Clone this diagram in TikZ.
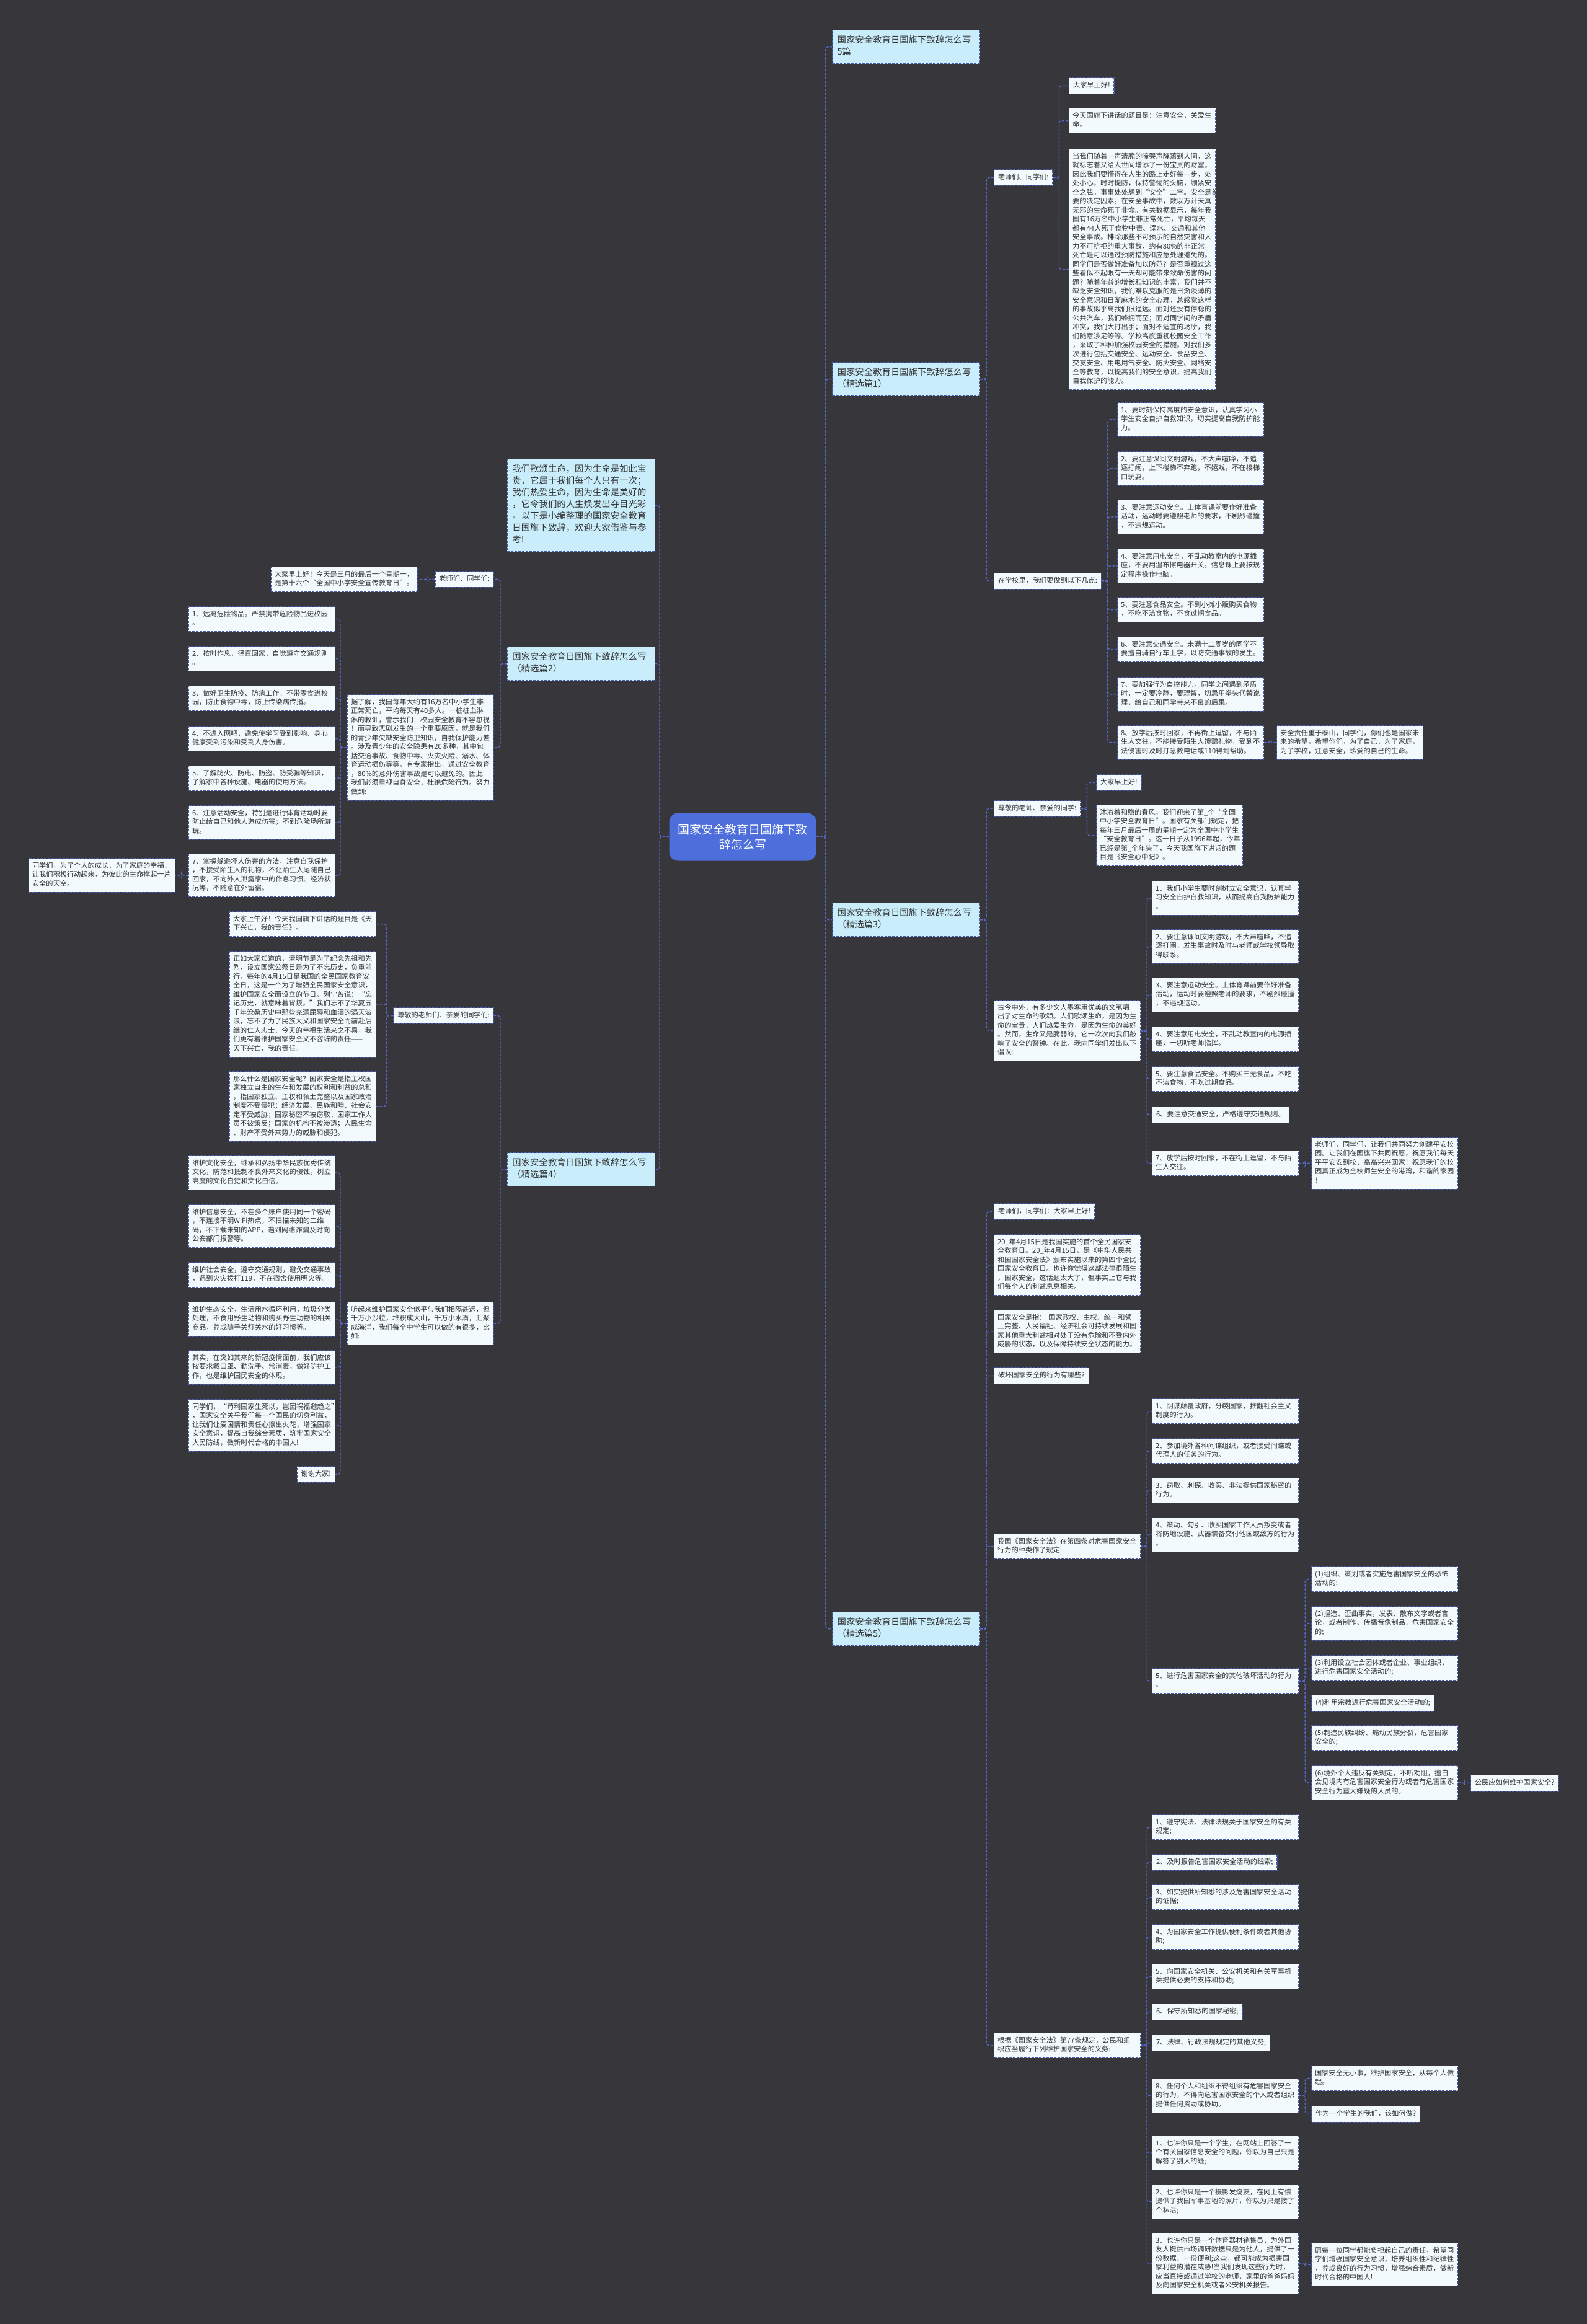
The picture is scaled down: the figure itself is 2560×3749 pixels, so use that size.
\documentclass[tikz,border=0pt]{standalone}
\usepackage{fontspec}
\setmainfont{Noto Sans CJK SC}
\definecolor{bgc}{HTML}{37363A}
\definecolor{leaff}{HTML}{F2FAFD}
\definecolor{brf}{HTML}{C9EDFB}
\definecolor{bordc}{HTML}{4A5AA6}
\definecolor{connc}{HTML}{5668C8}
\definecolor{txtc}{HTML}{333333}
\definecolor{cenf}{HTML}{4E6FDB}
\newcommand{\leaffont}{\fontsize{5.6pt}{7.25pt}\selectfont}
\newcommand{\branchfont}{\fontsize{7.2pt}{9.5pt}\selectfont}
\newcommand{\centerfont}{\fontsize{9.5pt}{12pt}\selectfont}
\begin{document}
\begin{tikzpicture}[x=0.5pt,y=-0.5pt,
  box/.style={draw=bordc, line width=0.6pt, dash pattern=on 2pt off 1pt, text=txtc, align=left},
  leaf/.style={box, fill=leaff, font=\leaffont, text width=112.4pt, inner xsep=2.8pt, inner ysep=2.75pt, anchor=north west, execute at begin node=\strut, execute at end node=\strut},
  leafl/.style={leaf, anchor=north east},
  sleaf/.style={box, fill=leaff, font=\leaffont, inner xsep=3.2pt, inner ysep=2.75pt, anchor=north west, execute at begin node=\strut},
  sleafl/.style={sleaf, anchor=north east},
  branch/.style={box, fill=brf, font=\branchfont, text width=111pt, inner xsep=4pt, inner ysep=4pt, anchor=north west, execute at begin node=\strut, execute at end node=\strut},
  conn/.style={draw=connc, line width=0.7pt, dash pattern=on 2pt off 1.2pt, rounded corners=2pt}
]
\fill[bgc] (0,0) rectangle (2560,3749);
\useasboundingbox (0,0) rectangle (2560,3749);

% center
\node[fill=cenf, rounded corners=7pt, text=white, font=\centerfont, align=center, minimum width=118.5pt, minimum height=38.5pt, inner sep=3pt] (C) at (1198,1350) {国家安全教育日国旗下致\\辞怎么写};

% right branches
\node[branch] (R0) at (1342,48) {国家安全教育日国旗下致辞怎么写\\5篇};
\node[branch] (R1) at (1342,584) {国家安全教育日国旗下致辞怎么写\\（精选篇1）};
\node[branch] (R3) at (1342,1456) {国家安全教育日国旗下致辞怎么写\\（精选篇3）};
\node[branch] (R5) at (1342,2600) {国家安全教育日国旗下致辞怎么写\\（精选篇5）};

% left branches
\node[branch, anchor=north east] (L0) at (1057,740) {我们歌颂生命，因为生命是如此宝\\贵，它属于我们每个人只有一次；\\我们热爱生命，因为生命是美好的\\，它令我们的人生焕发出夺目光彩\\。以下是小编整理的国家安全教育\\日国旗下致辞，欢迎大家借鉴与参\\考!};
\node[branch, anchor=north east] (L2) at (1057,1043) {国家安全教育日国旗下致辞怎么写\\（精选篇2）};
\node[branch, anchor=north east] (L4) at (1057,1859) {国家安全教育日国旗下致辞怎么写\\（精选篇4）};

% ---------- 精选篇1 ----------
\node[sleaf] (T1a) at (1603,273) {老师们、同学们:};
\node[sleaf] (a1) at (1724,125) {大家早上好!};
\node[leaf] (a2) at (1724,174) {今天国旗下讲话的题目是：注意安全，关爱生\\命。};
\node[leaf] (a3) at (1724,240) {当我们随着一声清脆的啼哭声降落到人间，这\\就标志着又给人世间增添了一份宝贵的财富。\\因此我们要懂得在人生的路上走好每一步，处\\处小心，时时提防，保持警惕的头脑，绷紧安\\全之弦。事事处处想到“安全”二字。安全是首\\要的决定因素。在安全事故中，数以万计天真\\无邪的生命死于非命。有关数据显示，每年我\\国有16万名中小学生非正常死亡，平均每天\\都有44人死于食物中毒、溺水、交通和其他\\安全事故。排除那些不可预示的自然灾害和人\\力不可抗拒的重大事故，约有80\%的非正常\\死亡是可以通过预防措施和应急处理避免的。\\同学们是否做好准备加以防范？是否重视过这\\些看似不起眼有一天却可能带来致命伤害的问\\题？随着年龄的增长和知识的丰富，我们并不\\缺乏安全知识，我们难以克服的是日渐淡薄的\\安全意识和日渐麻木的安全心理，总感觉这样\\的事故似乎离我们很遥远。面对还没有停稳的\\公共汽车，我们蜂拥而至；面对同学间的矛盾\\冲突，我们大打出手；面对不适宜的场所，我\\们随意涉足等等。学校高度重视校园安全工作\\，采取了种种加强校园安全的措施。对我们多\\次进行包括交通安全、运动安全、食品安全、\\交友安全、用电用气安全、防火安全、网络安\\全等教育，以提高我们的安全意识，提高我们\\自我保护的能力。};
\node[sleaf] (T1b) at (1603,924) {在学校里，我们要做到以下几点:};
\node[leaf] (b1) at (1802,649) {1、要时刻保持高度的安全意识，认真学习小\\学生安全自护自救知识，切实提高自我防护能\\力。};
\node[leaf] (b2) at (1802,728) {2、要注意课间文明游戏，不大声喧哗，不追\\逐打闹，上下楼梯不奔跑，不嬉戏，不在楼梯\\口玩耍。};
\node[leaf] (b3) at (1802,806) {3、要注意运动安全。上体育课前要作好准备\\活动，运动时要遵照老师的要求，不剧烈碰撞\\，不违规运动。};
\node[leaf] (b4) at (1802,885) {4、要注意用电安全，不乱动教室内的电源插\\座，不要用湿布擦电器开关。信息课上要按规\\定程序操作电脑。};
\node[leaf] (b5) at (1802,963) {5、要注意食品安全。不到小摊小贩购买食物\\，不吃不洁食物，不食过期食品。};
\node[leaf] (b6) at (1802,1027) {6、要注意交通安全。未满十二周岁的同学不\\要擅自骑自行车上学，以防交通事故的发生。};
\node[leaf] (b7) at (1802,1092) {7、要加强行为自控能力。同学之间遇到矛盾\\时，一定要冷静，要理智，切忌用拳头代替说\\理，给自己和同学带来不良的后果。};
\node[leaf] (b8) at (1802,1170) {8、放学后按时回家，不再街上逗留，不与陌\\生人交往，不能接受陌生人馈赠礼物，受到不\\法侵害时及时打急救电话或110得到帮助。};
\node[leaf] (b8x) at (2059,1170) {安全责任重于泰山，同学们，你们也是国家未\\来的希望，希望你们，为了自己，为了家庭，\\为了学校，注意安全，珍爱的自己的生命。};

% ---------- 精选篇3 ----------
\node[sleaf] (T3a) at (1603,1291) {尊敬的老师、亲爱的同学:};
\node[sleaf] (c1) at (1768,1249) {大家早上好!};
\node[leaf] (c2) at (1768,1298) {沐浴着和煦的春风，我们迎来了第\_个“全国\\中小学安全教育日”。国家有关部门规定，把\\每年三月最后一周的星期一定为全国中小学生\\“安全教育日”。这一日子从1996年起，今年\\已经是第\_个年头了，今天我国旗下讲话的题\\目是《安全心中记》。};
\node[leaf] (T3b) at (1603,1613) {古今中外，有多少文人墨客用优美的文笔唱\\出了对生命的歌颂。人们歌颂生命，是因为生\\命的宝贵，人们热爱生命，是因为生命的美好\\。然而，生命又是脆弱的，它一次次向我们敲\\响了安全的警钟。在此，我向同学们发出以下\\倡议:};
\node[leaf] (d1) at (1858,1421) {1、我们小学生要时刻树立安全意识，认真学\\习安全自护自救知识，从而提高自我防护能力\\。};
\node[leaf] (d2) at (1858,1499) {2、要注意课间文明游戏，不大声喧哗，不追\\逐打闹，发生事故时及时与老师或学校领导取\\得联系。};
\node[leaf] (d3) at (1858,1577) {3、要注意运动安全。上体育课前要作好准备\\活动，运动时要遵照老师的要求，不剧烈碰撞\\，不违规运动。};
\node[leaf] (d4) at (1858,1656) {4、要注意用电安全，不乱动教室内的电源插\\座，一切听老师指挥。};
\node[leaf] (d5) at (1858,1720) {5、要注意食品安全。不购买三无食品，不吃\\不洁食物，不吃过期食品。};
\node[sleaf] (d6) at (1858,1785) {6、要注意交通安全，严格遵守交通规则。};
\node[leaf] (d7) at (1858,1856) {7、放学后按时回家，不在街上逗留，不与陌\\生人交往。};
\node[leaf] (d7x) at (2115,1834) {老师们，同学们，让我们共同努力创建平安校\\园。让我们在国旗下共同祝愿，祝愿我们每天\\平平安安到校，高高兴兴回家！祝愿我们的校\\园真正成为全校师生安全的港湾，和谐的家园\\！};

% ---------- 精选篇5 ----------
\node[sleaf] (e1) at (1603,1941) {老师们，同学们：大家早上好!};
\node[leaf] (e2) at (1603,1991) {20\_年4月15日是我国实施的首个全民国家安\\全教育日。20\_年4月15日，是《中华人民共\\和国国家安全法》颁布实施以来的第四个全民\\国家安全教育日。也许你觉得这部法律很陌生\\，国家安全，这话题太大了，但事实上它与我\\们每个人的利益息息相关。};
\node[leaf] (e3) at (1603,2113) {国家安全是指：~国家政权、主权、统一和领\\土完整、人民福祉、经济社会可持续发展和国\\家其他重大利益相对处于没有危险和不受内外\\威胁的状态，以及保障持续安全状态的能力。};
\node[sleaf] (e4) at (1603,2206) {破坏国家安全的行为有哪些?};
\node[leaf] (e5) at (1603,2474) {我国《国家安全法》在第四条对危害国家安全\\行为的种类作了规定:};
\node[leaf] (e6) at (1603,3279) {根据《国家安全法》第77条规定，公民和组\\织应当履行下列维护国家安全的义务:};
\node[leaf] (f1) at (1858,2256) {1、阴谋颠覆政府，分裂国家，推翻社会主义\\制度的行为。};
\node[leaf] (f2) at (1858,2320) {2、参加境外各种间谍组织，或者接受间谍或\\代理人的任务的行为。};
\node[leaf] (f3) at (1858,2384) {3、窃取、刺探、收买、非法提供国家秘密的\\行为。};
\node[leaf] (f4) at (1858,2448) {4、策动、勾引、收买国家工作人员叛变或者\\将防地设施、武器装备交付他国或敌方的行为\\。};
\node[leaf] (f5) at (1858,2691) {5、进行危害国家安全的其他破坏活动的行为\\。};
\node[leaf] (g1) at (2115,2527) {(1)组织、策划或者实施危害国家安全的恐怖\\活动的;};
\node[leaf] (g2) at (2115,2591) {(2)捏造、歪曲事实，发表、散布文字或者言\\论，或者制作、传播音像制品，危害国家安全\\的;};
\node[leaf] (g3) at (2115,2670) {(3)利用设立社会团体或者企业、事业组织，\\进行危害国家安全活动的;};
\node[sleaf] (g4) at (2115,2734) {(4)利用宗教进行危害国家安全活动的;};
\node[leaf] (g5) at (2115,2783) {(5)制造民族纠纷、煽动民族分裂，危害国家\\安全的;};
\node[leaf] (g6) at (2115,2848) {(6)境外个人违反有关规定，不听劝阻，擅自\\会见境内有危害国家安全行为或者有危害国家\\安全行为重大嫌疑的人员的。};
\node[sleaf] (g6x) at (2372,2863) {公民应如何维护国家安全?};
\node[leaf] (h1) at (1858,2927) {1、遵守宪法、法律法规关于国家安全的有关\\规定;};
\node[sleaf] (h2) at (1858,2991) {2、及时报告危害国家安全活动的线索;};
\node[leaf] (h3) at (1858,3040) {3、如实提供所知悉的涉及危害国家安全活动\\的证据;};
\node[leaf] (h4) at (1858,3104) {4、为国家安全工作提供便利条件或者其他协\\助;};
\node[leaf] (h5) at (1858,3168) {5、向国家安全机关、公安机关和有关军事机\\关提供必要的支持和协助;};
\node[sleaf] (h6) at (1858,3232) {6、保守所知悉的国家秘密;};
\node[sleaf] (h7) at (1858,3282) {7、法律、行政法规规定的其他义务;};
\node[leaf] (h8) at (1858,3353) {8、任何个人和组织不得组织有危害国家安全\\的行为，不得向危害国家安全的个人或者组织\\提供任何资助或协助。};
\node[leaf] (h8a) at (2115,3332) {国家安全无小事，维护国家安全，从每个人做\\起。};
\node[sleaf] (h8b) at (2115,3397) {作为一个学生的我们，该如何做?};
\node[leaf] (i1) at (1858,3445) {1、也许你只是一个学生，在网站上回答了一\\个有关国家信息安全的问题，你以为自己只是\\解答了别人的疑;};
\node[leaf] (i2) at (1858,3524) {2、也许你只是一个摄影发烧友，在网上有偿\\提供了我国军事基地的照片，你以为只是接了\\个私活;};
\node[leaf] (i3) at (1858,3602) {3、也许你只是一个体育器材销售员，为外国\\友人提供市场调研数据只是为他人，提供了一\\份数据、一份便利;这些，都可能成为损害国\\家利益的潜在威胁!当我们发现这些行为时，\\应当直接或通过学校的老师，家里的爸爸妈妈\\及向国家安全机关或者公安机关报告。};
\node[leaf] (i3x) at (2115,3618) {愿每一位同学都能负担起自己的责任，希望同\\学们增强国家安全意识，培养组织性和纪律性\\，养成良好的行为习惯，增强综合素质，做新\\时代合格的中国人!};

% ---------- 精选篇2 ----------
\node[sleafl] (P1) at (797,921) {老师们、同学们:};
\node[leafl] (p1x) at (674,914) {大家早上好！今天是三月的最后一个星期一，\\是第十六个“全国中小学安全宣传教育日”。};
\node[leafl] (P2) at (797,1120) {据了解，我国每年大约有16万名中小学生非\\正常死亡，平均每天有40多人。一桩桩血淋\\淋的教训，警示我们：校园安全教育不容忽视\\！而导致悲剧发生的一个重要原因，就是我们\\的青少年欠缺安全防卫知识，自我保护能力差\\。涉及青少年的安全隐患有20多种，其中包\\括交通事故、食物中毒、火灾火险、溺水、体\\育运动损伤等等。有专家指出，通过安全教育\\，80\%的意外伤害事故是可以避免的。因此\\我们必须重视自身安全，杜绝危险行为。努力\\做到:};
\node[leafl] (q1) at (541,978) {1、远离危险物品。严禁携带危险物品进校园\\。};
\node[leafl] (q2) at (541,1042) {2、按时作息，径直回家，自觉遵守交通规则\\。};
\node[leafl] (q3) at (541,1106) {3、做好卫生防疫、防病工作。不带零食进校\\园，防止食物中毒，防止传染病传播。};
\node[leafl] (q4) at (541,1171) {4、不进入网吧，避免使学习受到影响、身心\\健康受到污染和受到人身伤害。};
\node[leafl] (q5) at (541,1235) {5、了解防火、防电、防盗、防受骗等知识，\\了解家中各种设施、电器的使用方法。};
\node[leafl] (q6) at (541,1299) {6、注意活动安全，特别是进行体育活动时要\\防止给自己和他人造成伤害；不到危险场所游\\玩。};
\node[leafl] (q7) at (541,1377) {7、掌握躲避坏人伤害的方法，注意自我保护\\，不接受陌生人的礼物，不让陌生人尾随自己\\回家，不向外人泄露家中的作息习惯、经济状\\况等，不随意在外留宿。};
\node[leafl] (q7x) at (283,1384) {同学们，为了个人的成长，为了家庭的幸福，\\让我们积极行动起来，为彼此的生命撑起一片\\安全的天空。};

% ---------- 精选篇4 ----------
\node[sleafl] (Q1) at (797,1625) {尊敬的老师们、亲爱的同学们:};
\node[leafl] (r1) at (607,1470) {大家上午好！今天我国旗下讲话的题目是《天\\下兴亡，我的责任》。};
\node[leafl] (r2) at (607,1534) {正如大家知道的，清明节是为了纪念先祖和先\\烈，设立国家公祭日是为了不忘历史，负重前\\行，每年的4月15日是我国的全民国家教育安\\全日，这是一个为了增强全民国家安全意识，\\维护国家安全而设立的节日。列宁曾说：“忘\\记历史，就意味着背叛。”我们忘不了华夏五\\千年沧桑历史中那些充满屈辱和血泪的滔天波\\浪，忘不了为了民族大义和国家安全而前赴后\\继的仁人志士，今天的幸福生活来之不易，我\\们更有着维护国家安全义不容辞的责任——\\天下兴亡，我的责任。};
\node[leafl] (r3) at (607,1728) {那么什么是国家安全呢？国家安全是指主权国\\家独立自主的生存和发展的权利和利益的总和\\，指国家独立、主权和领土完整以及国家政治\\制度不受侵犯；经济发展、民族和睦、社会安\\定不受威胁；国家秘密不被窃取；国家工作人\\员不被策反；国家的机构不被渗透；人民生命\\、财产不受外来势力的威胁和侵犯。};
\node[leafl] (Q2) at (797,2100) {听起来维护国家安全似乎与我们相隔甚远，但\\千万小沙粒，堆积成大山，千万小水滴，汇聚\\成海洋，我们每个中学生可以做的有很多，比\\如:};
\node[leafl] (s1) at (541,1864) {维护文化安全，继承和弘扬中华民族优秀传统\\文化，防范和抵制不良外来文化的侵蚀，树立\\高度的文化自觉和文化自信。};
\node[leafl] (s2) at (541,1943) {维护信息安全，不在多个账户使用同一个密码\\，不连接不明WiFi热点，不扫描未知的二维\\码，不下载未知的APP，遇到网络诈骗及时向\\公安部门报警等。};
\node[leafl] (s3) at (541,2036) {维护社会安全，遵守交通规则，避免交通事故\\，遇到火灾拨打119，不在宿舍使用明火等。};
\node[leafl] (s4) at (541,2100) {维护生态安全，生活用水循环利用，垃圾分类\\处理，不食用野生动物和购买野生动物的相关\\商品，养成随手关灯关水的好习惯等。};
\node[leafl] (s5) at (541,2178) {其实，在突如其来的新冠疫情面前，我们应该\\按要求戴口罩、勤洗手、常消毒，做好防护工\\作，也是维护国民安全的体现。};
\node[leafl] (s6) at (541,2257) {同学们，“苟利国家生死以，岂因祸福避趋之”\\，国家安全关乎我们每一个国民的切身利益，\\让我们让爱国情和责任心擦出火花，增强国家\\安全意识，提高自我综合素质，筑牢国家安全\\人民防线，做新时代合格的中国人!};
\node[sleafl] (s7) at (541,2365) {谢谢大家!};

% ---------- connectors ----------
\foreach \n in {R0,R1,R3,R5} \draw[conn] (C.east) -- ++(15,0) |- (\n.west);
\foreach \n in {L0,L2,L4} \draw[conn] (C.west) -- ++(-15,0) |- (\n.east);

\foreach \n in {T1a,T1b} \draw[conn] (R1.east) -- ++(10,0) |- (\n.west);
\foreach \n in {a1,a2,a3} \draw[conn] (T1a.east) -- ++(10,0) |- (\n.west);
\foreach \n in {b1,b2,b3,b4,b5,b6,b7,b8} \draw[conn] (T1b.east) -- ++(10,0) |- (\n.west);
\draw[conn] (b8.east) -- ++(10,0) |- (b8x.west);

\foreach \n in {T3a,T3b} \draw[conn] (R3.east) -- ++(10,0) |- (\n.west);
\foreach \n in {c1,c2} \draw[conn] (T3a.east) -- ++(10,0) |- (\n.west);
\foreach \n in {d1,d2,d3,d4,d5,d6,d7} \draw[conn] (T3b.east) -- ++(10,0) |- (\n.west);
\draw[conn] (d7.east) -- ++(10,0) |- (d7x.west);

\foreach \n in {e1,e2,e3,e4,e5,e6} \draw[conn] (R5.east) -- ++(10,0) |- (\n.west);
\foreach \n in {f1,f2,f3,f4,f5} \draw[conn] (e5.east) -- ++(10,0) |- (\n.west);
\foreach \n in {g1,g2,g3,g4,g5,g6} \draw[conn] (f5.east) -- ++(10,0) |- (\n.west);
\draw[conn] (g6.east) -- ++(10,0) |- (g6x.west);
\foreach \n in {h1,h2,h3,h4,h5,h6,h7,h8,i1,i2,i3} \draw[conn] (e6.east) -- ++(10,0) |- (\n.west);
\foreach \n in {h8a,h8b} \draw[conn] (h8.east) -- ++(10,0) |- (\n.west);
\draw[conn] (i3.east) -- ++(10,0) |- (i3x.west);

\foreach \n in {P1,P2} \draw[conn] (L2.west) -- ++(-11,0) |- (\n.east);
\draw[conn] (P1.west) -- ++(-11,0) |- (p1x.east);
\foreach \n in {q1,q2,q3,q4,q5,q6,q7} \draw[conn] (P2.west) -- ++(-11,0) |- (\n.east);
\draw[conn] (q7.west) -- ++(-11,0) |- (q7x.east);

\foreach \n in {Q1,Q2} \draw[conn] (L4.west) -- ++(-11,0) |- (\n.east);
\foreach \n in {r1,r2,r3} \draw[conn] (Q1.west) -- ++(-11,0) |- (\n.east);
\foreach \n in {s1,s2,s3,s4,s5,s6,s7} \draw[conn] (Q2.west) -- ++(-11,0) |- (\n.east);
\end{tikzpicture}
\end{document}
